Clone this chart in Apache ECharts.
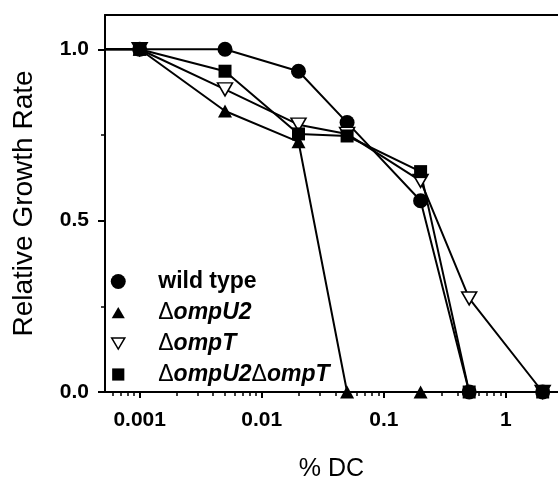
<!DOCTYPE html>
<html><head><meta charset="utf-8">
<script src="https://cdn.jsdelivr.net/npm/echarts@6/dist/echarts.min.js"></script>
<style>html,body{margin:0;padding:0;background:#fff}#c{width:558px;height:478px}</style>
</head><body><div id="c"></div>
<script>
// % DC concentrations; first entry is the no-drug control drawn at the left edge of the axis
const concentrations = [0.00052, 0.001, 0.005, 0.02, 0.05, 0.2, 0.5, 2];
const wildType  = [1, 1, 1,     0.936, 0.786, 0.558, 0,     0];
const ompU2     = [1, 1, 0.82,  0.73,  0,     0,     null,  null];
const ompT      = [1, 1, 0.883, 0.78,  0.753, 0.616, 0.273, 0];
const ompU2ompT = [1, 1, 0.936, 0.753, 0.747, 0.643, 0,     0];
const seriesNames = ['wild type', 'ΔompU2', 'ΔompT', 'ΔompU2ΔompT'];

const xMin = 0.00052, xMax = 2.67;
const xMajorTicks = [0.001, 0.01, 0.1, 1];
const xMinorTicks = [0.0006, 0.0007, 0.0008, 0.0009,
  0.002, 0.003, 0.004, 0.005, 0.006, 0.007, 0.008, 0.009,
  0.02, 0.03, 0.04, 0.05, 0.06, 0.07, 0.08, 0.09,
  0.2, 0.3, 0.4, 0.5, 0.6, 0.7, 0.8, 0.9, 2];
const yMajorTicks = [0, 0.5, 1.0];
const yMinorTicks = [0.25, 0.75];

const FONT = 'Liberation Sans, Arial, sans-serif';

function toData(vals) {
  const out = [];
  vals.forEach((v, i) => {
    if (v === null) return;
    const item = { value: [concentrations[i], v] };
    if (i === 0) item.symbol = 'none';
    out.push(item);
  });
  return out;
}

const lineStyle = { color: '#000', width: 2 };
const chart = echarts.init(document.getElementById('c'), null, { renderer: 'canvas' });
const series = [
  { name: seriesNames[0], data: toData(wildType), symbol: 'circle', symbolSize: 15,
    itemStyle: { color: '#000' } },
  { name: seriesNames[1], data: toData(ompU2), symbol: 'triangle', symbolSize: [14, 13],
    itemStyle: { color: '#000' } },
  { name: seriesNames[2], data: toData(ompT), symbol: 'triangle', symbolRotate: 180, symbolSize: [15, 13],
    itemStyle: { color: '#fff', borderColor: '#000', borderWidth: 1.5 } },
  { name: seriesNames[3], data: toData(ompU2ompT), symbol: 'rect', symbolSize: 13,
    itemStyle: { color: '#000' } }
].map(s => Object.assign({
  type: 'line', xAxisIndex: 0, yAxisIndex: 0, lineStyle: lineStyle, showAllSymbol: true,
  emphasis: { disabled: true }, animation: false, z: 3
}, s));

function richName(name) {
  if (name.indexOf('Δ') < 0) return '{b|' + name + '}';
  return name.split('Δ').filter(p => p.length).map(p => '{d|Δ}{i|' + p + '}').join('');
}

chart.setOption({
  animation: false,
  backgroundColor: '#fff',
  grid: { left: 105, right: 0, top: 15, bottom: 86, outerBoundsMode: 'none', containLabel: false },
  legend: {
    orient: 'vertical', left: 105, top: 265, itemWidth: 70, itemHeight: 15, itemGap: 8,
    selectedMode: false, symbolKeepAspect: true,
    data: [
      { name: seriesNames[0], icon: 'circle', itemStyle: { color: '#000', borderWidth: 0 } },
      { name: seriesNames[1], icon: 'path://M0,0 M16,16 M8,2 L15,14 L1,14 Z', itemStyle: { color: '#000', borderWidth: 0 } },
      { name: seriesNames[2], icon: 'path://M0,0 M16,16 M1,2 L15,2 L8,14 Z', itemStyle: { color: '#fff', borderColor: '#000', borderWidth: 1.5 } },
      { name: seriesNames[3], icon: 'path://M0,0 M16,16 M1.5,1.5 L14.5,1.5 L14.5,14.5 L1.5,14.5 Z', itemStyle: { color: '#000', borderWidth: 0 } }
    ],
    formatter: richName,
    textStyle: {
      color: '#000', fontFamily: FONT, fontSize: 23,
      rich: {
        b: { fontFamily: FONT, fontSize: 23, fontWeight: 'bold', color: '#000' },
        d: { fontFamily: FONT, fontSize: 23, fontWeight: 'normal', color: '#000' },
        i: { fontFamily: FONT, fontSize: 23, fontWeight: 'bold', fontStyle: 'italic', color: '#000' }
      }
    }
  },
  xAxis: [
    { type: 'log', logBase: 10, min: xMin, max: xMax, position: 'bottom',
      name: '% DC', nameLocation: 'middle', nameGap: 65,
      nameTextStyle: { fontFamily: FONT, fontSize: 25, color: '#000' },
      axisLine: { show: true, onZero: false, lineStyle: { color: '#000', width: 2 } },
      axisTick: { show: true, inside: false, length: 6, customValues: xMajorTicks, lineStyle: { color: '#000', width: 2 } },
      axisLabel: { show: true, customValues: xMajorTicks, margin: 18, color: '#000', fontFamily: FONT, fontSize: 21, fontWeight: 'bold',
        formatter: v => String(v) },
      splitLine: { show: false }, minorTick: { show: false }, minorSplitLine: { show: false } },
    { type: 'log', logBase: 10, min: xMin, max: xMax, position: 'bottom',
      axisLine: { show: false, onZero: false },
      axisTick: { show: true, inside: false, length: 4, customValues: xMinorTicks, lineStyle: { color: '#000', width: 1.5 } },
      axisLabel: { show: false }, splitLine: { show: false } },
    { type: 'log', logBase: 10, min: xMin, max: xMax, position: 'top',
      axisLine: { show: true, onZero: false, lineStyle: { color: '#000', width: 2 } },
      axisTick: { show: false }, axisLabel: { show: false }, splitLine: { show: false } }
  ],
  yAxis: [
    { type: 'value', min: 0, max: 1.1, position: 'left',
      name: 'Relative Growth Rate', nameLocation: 'middle', nameGap: 67,
      nameTextStyle: { fontFamily: FONT, fontSize: 28, color: '#000' },
      axisLine: { show: true, onZero: false, lineStyle: { color: '#000', width: 2 } },
      axisTick: { show: true, inside: false, length: 7, customValues: yMajorTicks, lineStyle: { color: '#000', width: 2 } },
      axisLabel: { show: true, customValues: yMajorTicks, margin: 16, color: '#000', fontFamily: FONT, fontSize: 21, fontWeight: 'bold',
        formatter: v => Number(v).toFixed(1) },
      splitLine: { show: false } },
    { type: 'value', min: 0, max: 1.1, position: 'left',
      axisLine: { show: false, onZero: false },
      axisTick: { show: true, inside: false, length: 4, customValues: yMinorTicks, lineStyle: { color: '#000', width: 1.5 } },
      axisLabel: { show: false }, splitLine: { show: false } }
  ],
  series: series
});
</script></body></html>
